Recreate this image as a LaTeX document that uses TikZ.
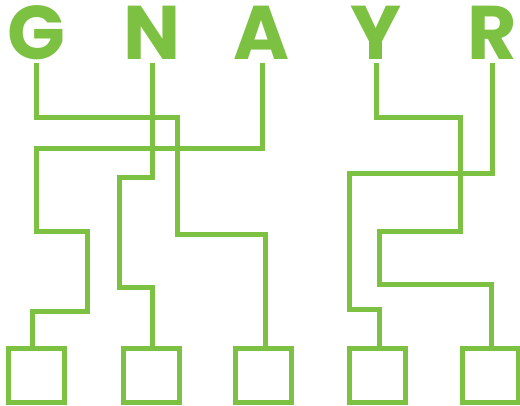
\documentclass[tikz,border=0pt]{standalone}
\usepackage{fontspec}
\setmainfont{Poppins}
\usetikzlibrary{positioning,calc}
\definecolor{gnGreen}{HTML}{7DC142}
\tikzset{
  gnletter/.style={
    inner sep=0pt, outer sep=0pt, anchor=base, text=gnGreen,
    font=\fontsize{76}{76}\selectfont\bfseries
  },
  gnbox/.style={
    draw=gnGreen, line width=5pt, inner sep=0pt, outer sep=0pt,
    minimum width=56pt, minimum height=54pt
  },
  gnwire/.style={draw=gnGreen, line width=5pt, line join=miter}
}
\begin{document}
\begin{tikzpicture}[x=1pt, y=-1pt]
  \useasboundingbox (0,0) rectangle (520,406);
  % letters
  \node[gnletter] (G) at (36,60) {G};
  \node[gnletter] (N) at (152,60) {N};
  \node[gnletter] (A) at (262,60) {A};
  \node[gnletter] (Y) at (376,60) {Y};
  \node[gnletter] (R) at (492,60) {R};
  % boxes
  \node[gnbox] (b1) at (36,375.5) {};
  \node[gnbox] (b2) at (151,375.5) {};
  \node[gnbox] (b3) at (263,375.5) {};
  \node[gnbox] (b4) at (377,375.5) {};
  \node[gnbox] (b5) at (490,375.5) {};
  % wires
  \draw[gnwire] ([yshift=-3pt]G.base) |- (177,118) |- (265,235) -- (265,0 |- b3.north);
  \draw[gnwire] ([yshift=-3pt]N.base) |- (119,178) |- (152,288) -- (152,0 |- b2.north);
  \draw[gnwire] ([yshift=-3pt]A.base) |- (36,149) |- (87,232) |- (32,312) -- (32,0 |- b1.north);
  \draw[gnwire] ([yshift=-3pt]Y.base) |- (460,118) |- (379,232) |- (491,285) -- (491,0 |- b5.north);
  \draw[gnwire] ([yshift=-3pt]R.base) |- (349,174) |- (379,310) -- (379,0 |- b4.north);
\end{tikzpicture}
\end{document}
